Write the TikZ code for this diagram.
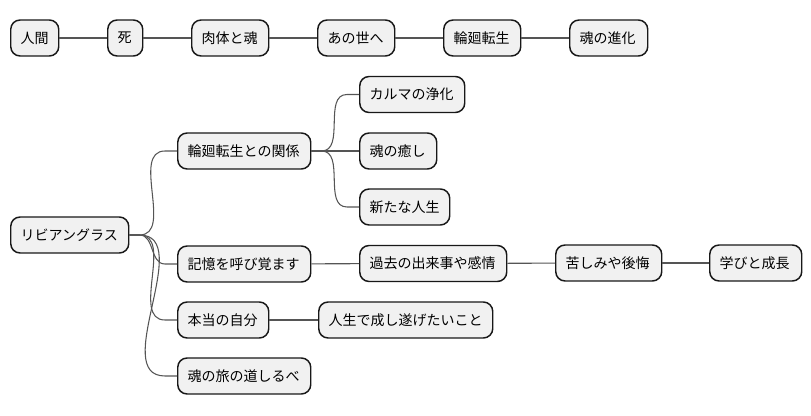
\documentclass[tikz,border=0pt]{standalone}
\usepackage{fontspec}
\setmainfont{Noto Sans CJK JP}
\usetikzlibrary{calc}
\definecolor{boxfill}{HTML}{F1F1F1}
\definecolor{boxline}{HTML}{181818}
\definecolor{conn}{HTML}{555555}
\tikzset{
  box/.style={draw=boxline, fill=boxfill, rounded corners=7pt, line width=1.1pt,
    minimum height=27pt, inner xsep=7.5pt, inner ysep=0pt, align=left, anchor=west,
    font=\fontsize{10.5pt}{12pt}\selectfont},
  link/.style={draw=conn, line width=0.8pt}
}
\newcommand\bx[5]{\pgfmathsetmacro\tw{(#4-20)*0.75}\node[box,text width=\tw pt] (#1) at (#2,#3) {#5};}
\newcommand\crv[2]{\draw[link] (#1.east) -- ++(10,0) to[out=0,in=180] ($(#2.west)+(-12,0)$) -- (#2.west);}
\begin{document}
\begin{tikzpicture}[x=0.75pt,y=-0.75pt]
\useasboundingbox (0,0) rectangle (811,416);
% top row
\bx{h1}{10}{38}{48}{人間}
\bx{h2}{107}{38}{35}{死}
\bx{h3}{191}{38}{77}{肉体と魂}
\bx{h4}{317}{38}{77}{あの世へ}
\bx{h5}{443}{38}{77}{輪廻転生}
\bx{h6}{569}{38}{78}{魂の進化}
\draw[link] (h1) -- (h2);
\draw[link] (h2) -- (h3);
\draw[link] (h3) -- (h4);
\draw[link] (h4) -- (h5);
\draw[link] (h5) -- (h6);
% lower tree
\bx{r}{10}{235}{118}{リビアングラス}
\bx{a}{177}{151}{133}{輪廻転生との関係}
\bx{a1}{359}{94.5}{105}{カルマの浄化}
\bx{a2}{359}{151}{77}{魂の癒し}
\bx{a3}{359}{207}{90}{新たな人生}
\bx{b}{177}{264}{133}{記憶を呼び覚ます}
\bx{b1}{359}{263.5}{147}{過去の出来事や感情}
\bx{b2}{555}{263}{106}{苦しみや後悔}
\bx{b3}{709}{263}{92}{学びと成長}
\bx{c}{177}{320}{91}{本当の自分}
\bx{c1}{318}{320}{174}{人生で成し遂げたいこと}
\bx{d}{177}{376}{133}{魂の旅の道しるべ}
\crv{r}{a}
\crv{r}{b}
\crv{r}{c}
\crv{r}{d}
\crv{a}{a1}
\crv{a}{a2}
\crv{a}{a3}
\draw[link] (b) -- (b1);
\draw[link] (b1) -- (b2);
\draw[link] (b2) -- (b3);
\draw[link] (c) -- (c1);
\end{tikzpicture}
\end{document}
